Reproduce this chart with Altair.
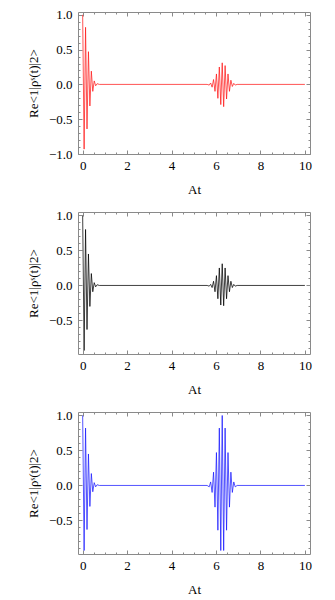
import altair as alt
import pandas as pd

# ---- values ----------------------------------------------------------
burst_t = [0.000, 0.065, 0.130, 0.195, 0.260, 0.325, 0.390, 0.455, 0.520, 0.585, 0.650, 0.750]
revival_t = [5.600, 5.695, 5.760, 5.825, 5.890, 5.955, 6.020, 6.085, 6.150, 6.215, 6.280,
             6.345, 6.410, 6.475, 6.540, 6.605, 6.670, 6.735, 6.800, 6.865, 6.950]
end_t = [10.0]

red_burst = [1.00, -0.93, 0.82, -0.64, 0.47, -0.31, 0.19, -0.10, 0.05, -0.02, 0.01, 0.00]
red_revival = [0.00, -0.01, 0.02, -0.04, 0.07, -0.10, 0.15, -0.20, 0.25, -0.29, 0.31,
               -0.32, 0.27, -0.21, 0.15, -0.10, 0.06, -0.03, 0.015, -0.01, 0.00]
red_end = [0.00]

black_burst = [1.00, -0.93, 0.80, -0.63, 0.45, -0.30, 0.17, -0.09, 0.04, -0.02, 0.01, 0.00]
black_revival = [0.00, -0.01, 0.015, -0.03, 0.06, -0.09, 0.14, -0.19, 0.25, -0.28, 0.31,
                 -0.29, 0.25, -0.19, 0.14, -0.09, 0.06, -0.03, 0.015, -0.01, 0.00]
black_end = [0.00]

blue_burst = [1.00, -0.93, 0.82, -0.63, 0.45, -0.30, 0.17, -0.09, 0.04, -0.02, 0.01, 0.00]
blue_revival = [0.00, -0.02, 0.05, -0.10, 0.19, -0.31, 0.47, -0.64, 0.82, -0.93, 1.00,
                -0.93, 0.82, -0.64, 0.47, -0.31, 0.19, -0.10, 0.05, -0.02, 0.00]
blue_end = [0.00]

x_domain = [-0.21, 10.23]
x_major = [0, 2, 4, 6, 8, 10]
x_minor = [0, 0.5, 1, 1.5, 2, 2.5, 3, 3.5, 4, 4.5, 5, 5.5, 6, 6.5, 7, 7.5, 8, 8.5, 9, 9.5, 10]

y_domain_top = [-1.0, 1.04]
y_domain_low = [-0.98, 1.05]
y_major_top = [-1.0, -0.5, 0.0, 0.5, 1.0]
y_major_low = [-0.5, 0.0, 0.5, 1.0]
y_minor_top = [-1.0, -0.9, -0.8, -0.7, -0.6, -0.5, -0.4, -0.3, -0.2, -0.1, 0.0,
               0.1, 0.2, 0.3, 0.4, 0.5, 0.6, 0.7, 0.8, 0.9, 1.0]
y_minor_low = [-0.9, -0.8, -0.7, -0.6, -0.5, -0.4, -0.3, -0.2, -0.1, 0.0,
               0.1, 0.2, 0.3, 0.4, 0.5, 0.6, 0.7, 0.8, 0.9, 1.0]

x_title = "At"
y_title = "Re<1|ρˢ(t)|2>"
FONT = "Liberation Serif, DejaVu Serif, serif"
FRAME = "#8a8a8a"
Y_LABEL_EXPR = "replace(format(datum.value, '.1f'), '-', '\u2212')"

PW, PH = 232, 142


def panel(t, v, color, ydom, ymaj, ymin):
    df = pd.DataFrame({"t": t, "v": v})
    xs = alt.Scale(domain=x_domain, nice=False, zero=False)
    ys = alt.Scale(domain=ydom, nice=False, zero=False)

    def layer(xaxis, yaxis, visible):
        return alt.Chart(df).mark_line(
            color=color, strokeWidth=0.75, opacity=1 if visible else 0, clip=True
        ).encode(
            x=alt.X("t:Q", scale=xs, axis=xaxis),
            y=alt.Y("v:Q", scale=ys, axis=yaxis),
        )

    main = layer(
        alt.Axis(orient="bottom", values=x_major, format="d", offset=-4, tickSize=4,
                 labelPadding=5, title=x_title, titlePadding=11),
        alt.Axis(orient="left", values=ymaj, labelExpr=Y_LABEL_EXPR, offset=-4, tickSize=4,
                 labelPadding=6, title=y_title, titlePadding=8),
        True,
    )
    minor_bl = layer(
        alt.Axis(orient="bottom", values=x_minor, offset=-2, tickSize=2, labels=False, title=None),
        alt.Axis(orient="left", values=ymin, offset=-2, tickSize=2, labels=False, title=None),
        False,
    )
    major_tr = layer(
        alt.Axis(orient="top", values=x_major, offset=-4, tickSize=4, labels=False, title=None),
        alt.Axis(orient="right", values=ymaj, offset=-4, tickSize=4, labels=False, title=None),
        False,
    )
    minor_tr = layer(
        alt.Axis(orient="top", values=x_minor, offset=-2, tickSize=2, labels=False, title=None),
        alt.Axis(orient="right", values=ymin, offset=-2, tickSize=2, labels=False, title=None),
        False,
    )
    return alt.layer(minor_bl, major_tr, minor_tr, main).resolve_axis(
        x="independent", y="independent"
    ).properties(width=PW, height=PH)


p1 = panel(burst_t + revival_t + end_t, red_burst + red_revival + red_end, "#ff1a1a",
           y_domain_top, y_major_top, y_minor_top)
p2 = panel(burst_t + revival_t + end_t, black_burst + black_revival + black_end, "#000000",
           y_domain_low, y_major_low, y_minor_low)
p3 = panel(burst_t + revival_t + end_t, blue_burst + blue_revival + blue_end, "#1a1aff",
           y_domain_low, y_major_low, y_minor_low)

chart = alt.vconcat(p1, p2, p3, spacing=11).properties(
    padding={"left": 18, "top": 0, "right": 5, "bottom": 0}
).configure_view(
    stroke=FRAME, strokeWidth=1
).configure_axis(
    grid=False, domain=False, tickColor=FRAME, tickWidth=1,
    labelFont=FONT, labelFontSize=13, labelColor="black",
    titleFont=FONT, titleFontSize=13, titleFontWeight="normal", titleColor="black",
)

chart.save("out.html", embed_options={"renderer": "svg", "actions": False})
